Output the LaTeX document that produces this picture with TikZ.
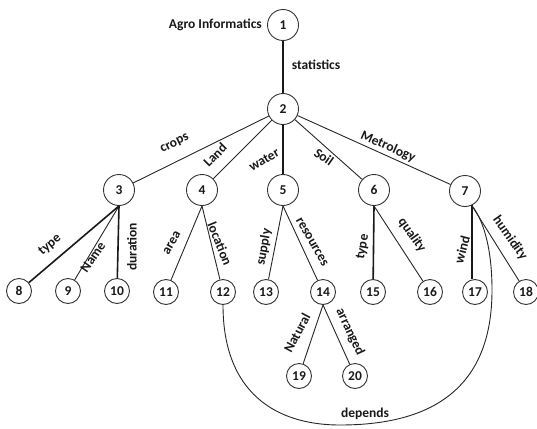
\documentclass[tikz,border=0pt]{standalone}
\usepackage{fontspec}
\setmainfont{Carlito}
\begin{document}
\begin{tikzpicture}[x=1pt,y=-1pt,
  every node/.style={font=\fontsize{13.5}{15}\selectfont\bfseries, text=black!90},
  bignode/.style={circle, draw=black!80, line width=0.9pt, minimum size=31pt, inner sep=0pt},
  leafnode/.style={circle, draw=black!80, line width=0.9pt, minimum size=25pt, inner sep=0pt},
  thinedge/.style={draw=black!85, line width=0.9pt},
  thickedge/.style={draw=black!90, line width=1.6pt},
  lbl/.style={inner sep=1pt}]
\useasboundingbox (0,0) rectangle (537,428);
% nodes
\node[bignode] (n1) at (283,25) {1};
\node[bignode] (n2) at (283,109) {2};
\node[bignode] (n3) at (119,190) {3};
\node[bignode] (n4) at (202,190) {4};
\node[bignode] (n5) at (283,190) {5};
\node[bignode] (n6) at (374,190) {6};
\node[bignode] (n7) at (465,191) {7};
\node[leafnode] (n8) at (19,291) {8};
\node[leafnode] (n9) at (68,291) {9};
\node[leafnode] (n10) at (117,291) {10};
\node[leafnode] (n11) at (166,292) {11};
\node[leafnode] (n12) at (223,292) {12};
\node[leafnode] (n13) at (266,292) {13};
\node[leafnode] (n14) at (323,292) {14};
\node[leafnode] (n15) at (373,292) {15};
\node[leafnode] (n16) at (430,292) {16};
\node[leafnode] (n17) at (475,292) {17};
\node[leafnode] (n18) at (526,292) {18};
\node[leafnode] (n19) at (299,376) {19};
\node[leafnode] (n20) at (355,376) {20};
% edges
\draw[thickedge] (n1) -- (n2);
\draw[thinedge] (n2) -- (n3);
\draw[thinedge] (n2) -- (n4);
\draw[thickedge] (n2) -- (n5);
\draw[thinedge] (n2) -- (n6);
\draw[thinedge] (n2) -- (n7);
\draw[thickedge] (n3.south) -- (n8);
\draw[thinedge] (n3.south) -- (n9);
\draw[thickedge] (n3.south) -- (n10);
\draw[thinedge] (n4.south) -- (n11);
\draw[thinedge] (n4.south) -- (n12);
\draw[thinedge] (n5.south) -- (n13);
\draw[thinedge] (n5.south) -- (n14);
\draw[thickedge] (n6.south) -- (n15);
\draw[thinedge] (n6.south) -- (n16);
\coordinate (c7) at (n7.-65);
\draw[thickedge] (c7) -- (c7 |- n17.north);
\draw[thinedge] (c7) -- (n18);
\draw[thinedge] (n14.south) -- (n19);
\draw[thinedge] (n14.south) -- (n20);
\draw[thinedge] (n12.south) .. controls (223,392) and (275,425) .. (340,425)
  .. controls (430,425) and (492,390) .. (492,290)
  .. controls (492,245) and (482,218) .. (c7);
% labels
\node[lbl, anchor=east] (tAgro) at (263,25) {Agro Informatics};
\node[lbl] (tstat) at (316,65) {statistics};
\node[lbl, rotate=26] (tcrops) at (175,144) {crops};
\node[lbl, rotate=45] (tland) at (215,155) {Land};
\node[lbl, rotate=30] (twater) at (264,160) {water};
\node[lbl, rotate=-35] (tsoil) at (324,157) {Soil};
\node[lbl, rotate=-24] (tmet) at (388,147) {Metrology};
\node[lbl, rotate=40] (ttype1) at (50,245) {type};
\node[lbl, rotate=55] (tname) at (93,257) {Name};
\node[lbl, rotate=90] (tdur) at (132,247) {duration};
\node[lbl, rotate=60] (tarea) at (172,243) {area};
\node[lbl, rotate=-68] (tloc) at (220,244) {location};
\node[lbl, rotate=80] (tsup) at (264,247) {supply};
\node[lbl, rotate=-60] (tres) at (312,242) {resources};
\node[lbl, rotate=80] (ttype2) at (363,247) {type};
\node[lbl, rotate=-55] (tqual) at (412,235) {quality};
\node[lbl, rotate=75] (twind) at (462,250) {wind};
\node[lbl, rotate=-55] (thum) at (510,238) {humidity};
\node[lbl, rotate=62] (tnat) at (297,333) {Natural};
\node[lbl, rotate=-65] (tarr) at (350,332) {arranged};
\node[lbl] (tdep) at (365,414) {depends};
\end{tikzpicture}
\end{document}
